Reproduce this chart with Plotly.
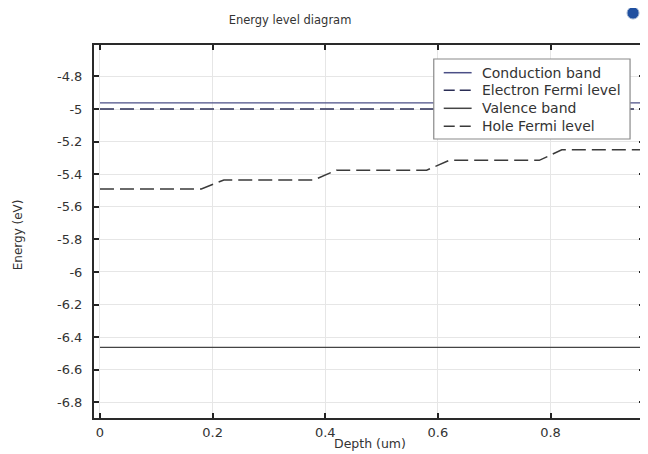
import plotly.graph_objects as go

# Data
depth_flat = [0.0, 1.0]
conduction_band = [-4.962, -4.962]
electron_fermi = [-5.0, -5.0]
valence_band = [-6.462, -6.462]
hole_depth = [0.0, 0.18, 0.22, 0.38, 0.42, 0.58, 0.62, 0.78, 0.82, 1.0]
hole_fermi = [-5.49, -5.49, -5.435, -5.435, -5.375, -5.375, -5.315, -5.315, -5.25, -5.25]

series_names = ["Conduction band", "Electron Fermi level", "Valence band", "Hole Fermi level"]
series_colors = ["#4b4f86", "#2a2d55", "#444444", "#3a3a3a"]
series_dash = ["solid", "14px,6px", "solid", "14px,6px"]

x_ticks = [0, 0.2, 0.4, 0.6, 0.8]
x_ticktext = ["0", "0.2", "0.4", "0.6", "0.8"]
y_ticks = [-4.8, -5.0, -5.2, -5.4, -5.6, -5.8, -6.0, -6.2, -6.4, -6.6, -6.8]
y_ticktext = ["-4.8", "-5", "-5.2", "-5.4", "-5.6", "-5.8", "-6", "-6.2", "-6.4", "-6.6", "-6.8"]

font = "DejaVu Sans, Verdana, sans-serif"
txt = "#333333"

# page body has an 8px default margin -> lay out in figure pixels = page pixels - 8
OFF = 8
W, H = 648, 454
L, R, T, B = 94 - OFF, W - (646 - OFF), 45 - OFF, H - (418 - OFF)
pw, ph = W - L - R, H - T - B


def px(page_x):
    return (page_x - OFF - L) / pw


def py(page_y):
    return (H - B - (page_y - OFF)) / ph


fig = go.Figure()
xs = [depth_flat, depth_flat, depth_flat, hole_depth]
ys = [conduction_band, electron_fermi, valence_band, hole_fermi]
widths = [1.3, 1.5, 1.3, 1.5]
for name, x, y, c, d, w in zip(series_names, xs, ys, series_colors, series_dash, widths):
    fig.add_trace(go.Scatter(x=x, y=y, mode="lines", name=name,
                             line=dict(color=c, width=w, dash=d)))

fig.update_layout(
    width=W, height=H,
    margin=dict(l=L, r=R, t=T, b=B),
    paper_bgcolor="white", plot_bgcolor="white",
    font=dict(family=font, size=11, color=txt),
    title=dict(text="Energy level diagram", x=(290 - OFF) / W, xanchor="center",
               y=1 - (20 - OFF) / H, yanchor="middle",
               font=dict(family=font, size=11.5, color=txt)),
    showlegend=False,
)

fig.update_xaxes(
    range=[-0.0106, 0.966], tickvals=x_ticks, ticktext=x_ticktext,
    ticks="inside", ticklen=5, tickwidth=1.5, tickcolor="#222222",
    showline=True, linecolor="#2a2a2a", linewidth=2, mirror="ticks",
    showgrid=True, gridcolor="#e6e6e6", gridwidth=1, zeroline=False,
    ticklabelstandoff=1,
    tickfont=dict(family=font, size=13, color=txt),
)
fig.update_yaxes(
    range=[-6.896, -4.607], tickvals=y_ticks, ticktext=y_ticktext,
    ticks="inside", ticklen=5, tickwidth=1.5, tickcolor="#222222",
    showline=True, linecolor="#2a2a2a", linewidth=2, mirror="ticks",
    showgrid=True, gridcolor="#e6e6e6", gridwidth=1, zeroline=False,
    ticklabelstandoff=7,
    tickfont=dict(family=font, size=13, color=txt),
)

# axis titles
fig.add_annotation(text="Depth (um)", xref="paper", yref="paper",
                   x=px(371), y=py(443), xanchor="center", yanchor="middle",
                   showarrow=False, font=dict(family=font, size=12.5, color=txt))
fig.add_annotation(text="Energy (eV)", xref="paper", yref="paper",
                   x=px(18), y=py(235), textangle=-90,
                   xanchor="center", yanchor="middle", showarrow=False,
                   font=dict(family=font, size=12, color=txt))

# legend box (drawn to match the original's compact layout)
fig.add_shape(type="rect", xref="paper", yref="paper", layer="above",
              x0=px(435), x1=px(632), y0=py(139), y1=py(59),
              fillcolor="white", line=dict(color="#8a8a8a", width=1.2))
row_y = [72.7, 90.3, 108.3, 126.2]
legend_dash = ["solid", "11px,5px", "solid", "11px,5px"]
for name, c, d, ry in zip(series_names, series_colors, legend_dash, row_y):
    fig.add_shape(type="line", xref="paper", yref="paper", layer="above",
                  x0=px(445), x1=px(473), y0=py(ry), y1=py(ry),
                  line=dict(color=c, width=1.5, dash=d))
    fig.add_annotation(text=name, xref="paper", yref="paper",
                       x=px(481), y=py(ry), xanchor="left", yanchor="middle",
                       showarrow=False, font=dict(family=font, size=14, color=txt))

# small logo icon in top-right corner
fig.add_shape(type="circle", xref="paper", yref="paper",
              x0=px(629), x1=px(641), y0=py(19), y1=py(7),
              fillcolor="#1f4fa0", line=dict(color="#9ab0d0", width=1))

fig.write_html("out.html")
